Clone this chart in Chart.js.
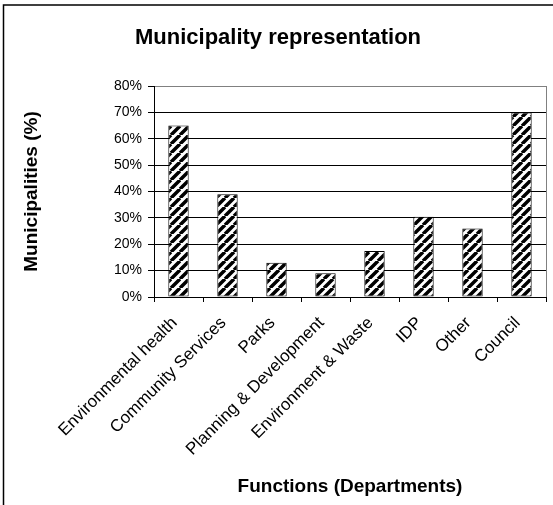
<!DOCTYPE html>
<html><head><meta charset="utf-8">
<script src="https://cdn.jsdelivr.net/npm/chart.js@4/dist/chart.umd.min.js"></script>
<style>html,body{margin:0;padding:0;background:#fff;}</style>
</head><body>
<canvas id="c" width="553" height="505" style="display:block;width:553px;height:505px"></canvas>
<script>
const categories = ['Environmental health', 'Community Services', 'Parks', 'Planning & Development', 'Environment & Waste', 'IDP', 'Other', 'Council'];
const values = [65, 39, 13, 9, 17.4, 30.4, 26, 70];
const yTickLabels = ['0%', '10%', '20%', '30%', '40%', '50%', '60%', '70%', '80%'];
const chartTitle = 'Municipality representation';
const xTitle = 'Functions (Departments)';
const yTitle = 'Municipalities (%)';

const FONT = "'Liberation Sans', Arial, sans-serif";

function hatch() {
  const s = 9;
  const c = document.createElement('canvas');
  c.width = s; c.height = s;
  const x = c.getContext('2d');
  x.fillStyle = '#fff'; x.fillRect(0, 0, s, s);
  x.strokeStyle = '#000'; x.lineWidth = 3.5;
  x.beginPath();
  for (let k = -1; k <= 1; k++) { x.moveTo(k * s, s); x.lineTo(k * s + s, 0); }
  x.stroke();
  return document.getElementById('c').getContext('2d').createPattern(c, 'repeat');
}

const frame = {
  id: 'frame',
  afterDraw(chart) {
    const ctx = chart.ctx, a = chart.chartArea;
    ctx.save();
    ctx.strokeStyle = '#808080'; ctx.lineWidth = 1;
    ctx.beginPath(); ctx.moveTo(a.right + 0.5, a.top); ctx.lineTo(a.right + 0.5, a.bottom); ctx.stroke();
    ctx.strokeStyle = '#000'; ctx.lineWidth = 1.5;
    ctx.beginPath(); ctx.moveTo(3.5, 560); ctx.lineTo(3.5, 5); ctx.lineTo(560, 5); ctx.stroke();
    ctx.restore();
  }
};

new Chart(document.getElementById('c'), {
  type: 'bar',
  data: {
    labels: categories,
    datasets: [{
      data: values,
      backgroundColor: hatch(),
      borderColor: '#000',
      borderWidth: 1,
      borderSkipped: false,
      barPercentage: 0.416,
      categoryPercentage: 1
    }]
  },
  options: {
    responsive: false,
    animation: false,
    devicePixelRatio: 1,
    layout: { padding: { top: 10, left: 10, right: 7, bottom: 0 } },
    plugins: {
      legend: { display: false },
      tooltip: { enabled: false },
      title: {
        display: true, text: chartTitle, color: '#000',
        font: { family: FONT, size: 22, weight: 'bold', lineHeight: 1.2 },
        padding: { top: 14.5, bottom: 35.1 }
      }
    },
    scales: {
      x: {
        grid: { offset: true, drawOnChartArea: false, color: '#000', tickLength: 5 },
        border: { color: '#000', width: 1 },
        ticks: {
          color: '#000', autoSkip: false, maxRotation: 45, minRotation: 45, padding: 11,
          labelOffset: -4,
          font: { family: FONT, size: 17 }
        },
        title: {
          display: true, text: xTitle, color: '#000',
          font: { family: FONT, size: 19, weight: 'bold', lineHeight: 1.2 },
          padding: { top: 4, bottom: 7 }
        },
        afterFit(s) { s.height = 208; }
      },
      y: {
        min: 0, max: 80,
        grid: {
          color: (c) => (c.tick && c.tick.value === 80 ? '#808080' : '#000'),
          tickColor: '#000', tickLength: 6
        },
        border: { color: '#000', width: 1 },
        ticks: {
          stepSize: 10, color: '#000', padding: 6,
          font: { family: FONT, size: 14 },
          callback: (v, i) => yTickLabels[i]
        },
        title: {
          display: true, text: yTitle, color: '#000',
          font: { family: FONT, size: 19, weight: 'bold', lineHeight: 1.2 },
          padding: { top: 10, bottom: 0 }
        },
        afterFit(s) { s.width = 144; }
      }
    }
  },
  plugins: [frame]
});
</script>
</body></html>
